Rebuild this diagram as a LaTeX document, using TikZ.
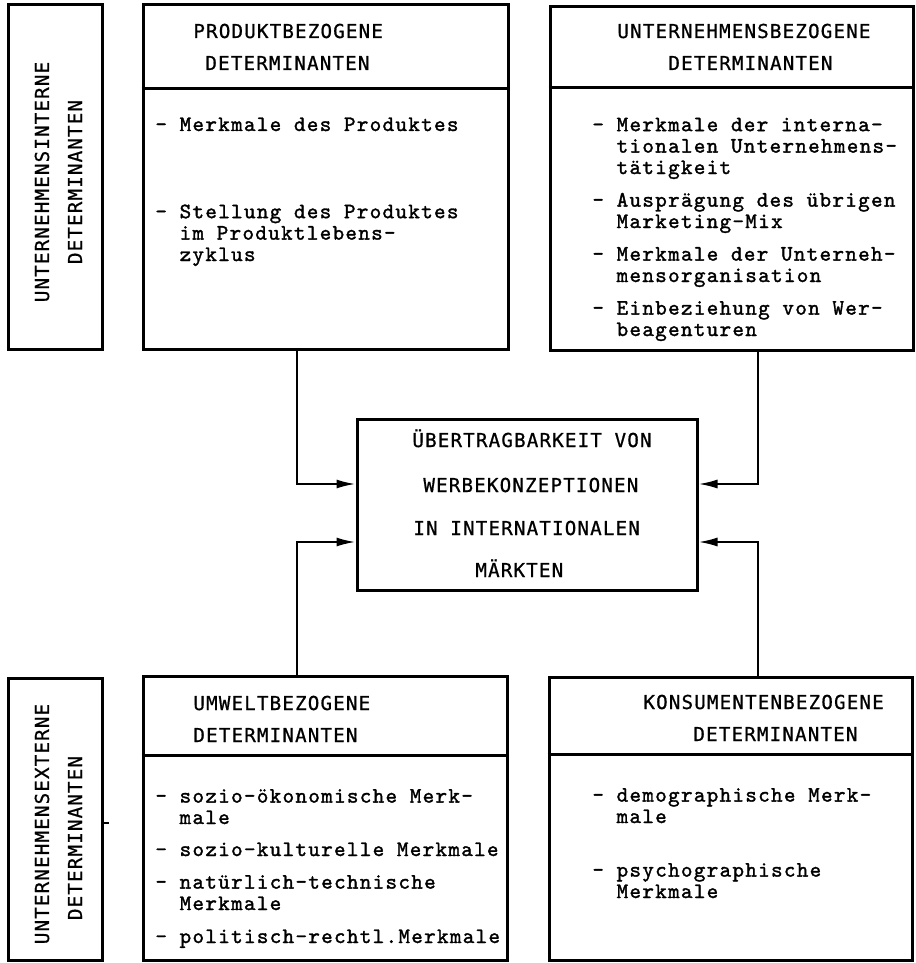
\documentclass[tikz,border=0pt]{standalone}
\usepackage{fontspec}
\newfontfamily\headfont{DejaVu Sans Mono}[LetterSpace=6,FakeBold=0.8]
\newfontfamily\bodyfont{Latin Modern Mono}[LetterSpace=6,FakeBold=1.5]
\newcommand\myheadsty{\headfont\fontsize{9.6}{10}\selectfont\spaceskip 6.35pt\relax}
\newcommand\mybodysty{\bodyfont\fontsize{11}{10.7}\selectfont\spaceskip 6.35pt\relax}
\usetikzlibrary{arrows.meta,fit}
\begin{document}
\begin{tikzpicture}[x=0.5pt,y=-0.5pt,
  box/.style={draw, line width=1.5pt, inner sep=0pt},
  divider/.style={line width=1.5pt},
  conn/.style={line width=1pt, -{Latex[length=9.5pt,width=4.5pt]}},
  head/.style={font=\myheadsty, inner sep=0pt, anchor=base west},
  vhead/.style={font=\myheadsty, inner sep=0pt, anchor=center, rotate=90},
  item/.style={font=\mybodysty, inner sep=0pt, anchor=base west, align=left}]
\useasboundingbox (0,0) rectangle (915,963);
\fill[white] (0,0) rectangle (915,963);

% boxes
\node[box, fit={(8,5) (102,349)}] (l1) {};
\node[box, fit={(143,5) (508,349)}] (pb) {};
\node[box, fit={(550,7) (913,350)}] (ub) {};
\node[box, fit={(357,419) (697,590)}] (c) {};
\node[box, fit={(8,678) (102,960)}] (l2) {};
\node[box, fit={(143,676) (507,960)}] (uw) {};
\node[box, fit={(549,677) (912,960)}] (kb) {};

% dividers
\coordinate (dpb) at (0,89);
\coordinate (dub) at (0,88);
\coordinate (duw) at (0,755);
\coordinate (dkb) at (0,754);
\draw[divider] (pb.west |- dpb) -- (pb.east |- dpb);
\draw[divider] (ub.west |- dub) -- (ub.east |- dub);
\draw[divider] (uw.west |- duw) -- (uw.east |- duw);
\draw[divider] (kb.west |- dkb) -- (kb.east |- dkb);

% side labels
\node[vhead] (l1a) at (42,182) {UNTERNEHMENSINTERNE};
\node[vhead] (l1b) at (75,182) {DETERMINANTEN};
\node[vhead] (l2a) at (42,824) {UNTERNEHMENSEXTERNE};
\node[vhead] (l2b) at (75,838) {DETERMINANTEN};
\coordinate (tk) at (0,823);
\draw[line width=1pt] (l2.east |- tk) -- ++(5,0);

% headings
\node[head] (pba) at (193,38) {PRODUKTBEZOGENE};
\node[head] (pbb) at (205,70) {DETERMINANTEN};
\node[head] (uba) at (617,38) {UNTERNEHMENSBEZOGENE};
\node[head] (ubb) at (668,70) {DETERMINANTEN};
\node[head] (uwa) at (193,710) {UMWELTBEZOGENE};
\node[head] (uwb) at (193,742) {DETERMINANTEN};
\node[head] (kba) at (643,709) {KONSUMENTENBEZOGENE};
\node[head] (kbb) at (693,741) {DETERMINANTEN};

% center text
\node[head] (ca) at (412,447) {ÜBERTRAGBARKEIT VON};
\node[head] (cb) at (423,492) {WERBEKONZEPTIONEN};
\node[head] (cc) at (413,535) {IN INTERNATIONALEN};
\node[head] (cd) at (475,577) {MÄRKTEN};

% items product (anchor = baseline of last line)
\node[item] (p1) at (155,131) {- Merkmale des Produktes};
\node[item] (p2) at (155,261) {- Stellung des Produktes\\\hphantom{- }im Produktlebens-\\\hphantom{- }zyklus};

% items company
\node[item] (u1) at (592,174) {- Merkmale der interna-\\\hphantom{- }tionalen Unternehmens-\\\hphantom{- }tätigkeit};
\node[item] (u2) at (592,228) {- Ausprägung des übrigen\\\hphantom{- }Marketing-Mix};
\node[item] (u3) at (592,282) {- Merkmale der Unterneh-\\\hphantom{- }mensorganisation};
\node[item] (u4) at (592,336) {- Einbeziehung von Wer-\\\hphantom{- }beagenturen};

% items environment
\node[item] (w1) at (155,824) {- sozio-ökonomische Merk-\\\hphantom{- }male};
\node[item] (w2) at (155,856) {- sozio-kulturelle Merkmale};
\node[item] (w3) at (155,910) {- natürlich-technische\\\hphantom{- }Merkmale};
\node[item] (w4) at (155,943) {- politisch-rechtl.Merkmale};

% items consumer
\node[item] (k1) at (592,823) {- demographische Merk-\\\hphantom{- }male};
\node[item] (k2) at (592,898) {- psychographische\\\hphantom{- }Merkmale};

% connectors
\coordinate (xl) at (297,0);
\coordinate (xr) at (758,0);
\coordinate (ya) at (0,484);
\coordinate (yb) at (0,542);
\draw[conn] (pb.south -| xl) |- (c.west |- ya);
\draw[conn] (ub.south -| xr) |- (c.east |- ya);
\draw[conn] (uw.north -| xl) |- (c.west |- yb);
\draw[conn] (kb.north -| xr) |- (c.east |- yb);
\end{tikzpicture}
\end{document}
